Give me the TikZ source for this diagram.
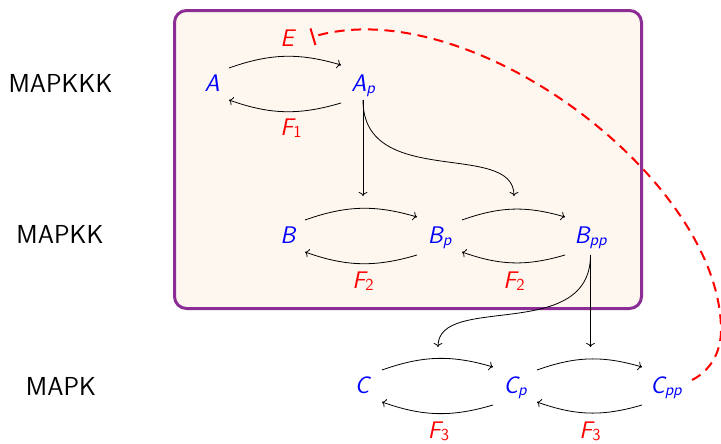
\documentclass[tikz,border=0pt]{standalone}
\usepackage{fontspec}
\usetikzlibrary{arrows.meta}
\definecolor{boxline}{RGB}{140,45,150}
\definecolor{boxfill}{RGB}{253,247,240}
\newcommand\msub[2]{{\itshape #1}\raisebox{-1.6pt}{\fontsize{12.6}{14}\selectfont\itshape #2}}
\newcommand\msubup[2]{{\itshape #1}\raisebox{-1.6pt}{\fontsize{12.6}{14}\selectfont #2}}
\tikzset{
  lvl/.style={anchor=base, inner sep=0pt, font=\sffamily\fontsize{19.5}{22}\selectfont},
  sp/.style={anchor=base, inner sep=0pt, text=blue},
  enz/.style={anchor=base, inner sep=0pt, text=red},
  arr/.style={line width=0.6pt, -{To[length=3pt,width=6.5pt]}},
  inh/.style={red, line width=1.5pt, dash pattern=on 7.5pt off 5pt, -{Bar[width=13pt,line width=1.5pt]}},
  panel/.style={draw=boxline, fill=boxfill, line width=2.25pt, rounded corners=9pt}
}
\newcommand\cycpair[4]{%
  \draw[arr] ([shift={(#3,23)}]#1.base) to[bend left=18] ([shift={(-#4,26)}]#2.base);
  \draw[arr] ([shift={(-#4,-12)}]#2.base) to[bend left=18] ([shift={(#3,-9)}]#1.base);}
\begin{document}
\begin{tikzpicture}[x=0.75pt,y=0.75pt,font=\sffamily\fontsize{18}{20}\selectfont]
\useasboundingbox (0,0) rectangle (721,-443);
\draw[panel] (174.5,-10.5) rectangle (641.5,-308.5);

\node[lvl] (l1) at (60.5,-92) {MAPKKK};
\node[lvl] (l2) at (60,-243) {MAPKK};
\node[lvl] (l3) at (61,-395) {MAPK};

\node[sp] (A) at (212,-91) {\itshape A};
\node[sp] (Ap) at (363,-91) {\msub{A}{p}};
\node[sp] (B) at (288,-243) {\itshape B};
\node[sp] (Bp) at (439.5,-243) {\msub{B}{p}};
\node[sp] (Bpp) at (590.5,-243) {\msub{B}{pp}};
\node[sp] (C) at (362,-393) {\itshape C};
\node[sp] (Cp) at (515,-393) {\msub{C}{p}};
\node[sp] (Cpp) at (666,-393) {\msub{C}{pp}};

\node[enz] (E) at (287,-46) {\itshape E};
\node[enz] (F1) at (291,-135) {\msubup{F}{1}};
\node[enz] (F2a) at (363,-288) {\msubup{F}{2}};
\node[enz] (F2b) at (514,-288) {\msubup{F}{2}};
\node[enz] (F3a) at (438.5,-438) {\msubup{F}{3}};
\node[enz] (F3b) at (590,-438) {\msubup{F}{3}};

\cycpair{A}{Ap}{17}{22}
\cycpair{B}{Bp}{17}{22.5}
\cycpair{Bp}{Bpp}{22.5}{25.5}
\cycpair{C}{Cp}{20}{22}
\cycpair{Cp}{Cpp}{22}{24}

\coordinate (t1) at (363,-196);
\coordinate (t2) at (514,-196);
\coordinate (t3) at (590.5,-347);
\coordinate (t4) at (438,-347);

\draw[arr] ([shift={(0,-9)}]Ap.base) -- (t1);
\draw[arr] ([shift={(0,-9)}]Ap.base) .. controls +(0,-90) and +(0,56) .. (t2);
\draw[arr] ([shift={(0,-12)}]Bpp.base) -- (t3);
\draw[arr] ([shift={(0,-12)}]Bpp.base) .. controls +(0,-88) and +(0,54) .. (t4);

\draw[inh] ([shift={(26,13)}]Cpp.base) .. controls (708,-372) and (721,-355) .. (721,-330)
   .. controls (721,-180) and (470,10) .. ([shift={(25,9)}]E.base);
\end{tikzpicture}
\end{document}
